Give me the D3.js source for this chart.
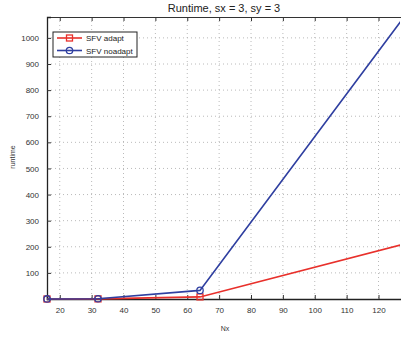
<!DOCTYPE html>
<html>
<head>
<meta charset="utf-8">
<script src="https://cdn.jsdelivr.net/npm/d3@7"></script>
<style>
  html, body { margin: 0; padding: 0; background: #fff; }
  svg { display: block; font-family: "Liberation Sans", Arial, sans-serif; }
</style>
</head>
<body>
<svg id="chart" width="401" height="337"></svg>
<script>
// Grid sizes and measured runtimes
const nx = [16, 32, 64, 128];
const adapt = [0.05, 0.5, 8, 210];
const noadapt = [0.1, 1, 33, 1080];
const xTicks = [20, 30, 40, 50, 60, 70, 80, 90, 100, 110, 120];
const yTicks = [100, 200, 300, 400, 500, 600, 700, 800, 900, 1000];
const seriesNames = ["SFV adapt", "SFV noadapt"];

const svg = d3.select("#chart");
const W = 401, H = 337;
const m = { left: 47, top: 17, right: -3, bottom: 38 };
const x = d3.scaleLinear().domain([16, 128]).range([m.left, W - m.right]);
const y = d3.scaleLinear().domain([0, 1080]).range([H - m.bottom, m.top]);

// the axes box continues past the right edge of the page; clip just before it
svg.append("defs").append("clipPath").attr("id", "plotclip")
  .append("rect").attr("x", m.left - 4).attr("y", m.top - 1)
  .attr("width", 400 - m.left + 4).attr("height", H - m.bottom - m.top + 6);

// dotted grid
const grid = svg.append("g").attr("stroke", "#a8a8a8").attr("stroke-width", 0.8)
  .attr("stroke-dasharray", "1,3");
grid.selectAll(".gx").data(xTicks).join("line")
  .attr("x1", d => x(d)).attr("x2", d => x(d))
  .attr("y1", y.range()[1]).attr("y2", y.range()[0]);
grid.selectAll(".gy").data(yTicks).join("line")
  .attr("x1", m.left).attr("x2", W)
  .attr("y1", d => y(d)).attr("y2", d => y(d));

// axes: ticks point inward
const xAxis = svg.append("g").attr("transform", `translate(0,${y(0)})`)
  .call(d3.axisBottom(x).tickValues(xTicks).tickSize(-4).tickPadding(8).tickFormat(d3.format("d")));
const xTop = svg.append("g").attr("transform", `translate(0,${m.top})`)
  .call(d3.axisTop(x).tickValues(xTicks).tickSize(-4).tickFormat(""));
const yAxis = svg.append("g").attr("transform", `translate(${m.left},0)`)
  .call(d3.axisLeft(y).tickValues(yTicks).tickSize(-4).tickPadding(8).tickFormat(d3.format("d")));
[xAxis, xTop, yAxis].forEach(g => {
  g.selectAll("text").attr("font-size", 8).attr("fill", "#333")
    .attr("font-family", "Liberation Sans, Arial, sans-serif");
  g.selectAll(".tick line").attr("stroke", "#333");
});
xAxis.select(".domain").attr("stroke", "#222").attr("stroke-width", 1.6);
xTop.select(".domain").attr("stroke", "#333").attr("stroke-width", 1);
yAxis.select(".domain").attr("stroke", "#222").attr("stroke-width", 1.3);

// series
const line = d3.line().x(d => x(d[0])).y(d => y(d[1]));
const plot = svg.append("g").attr("clip-path", "url(#plotclip)");
const series = [
  { name: seriesNames[0], vals: adapt, color: "#e8302b", marker: "square" },
  { name: seriesNames[1], vals: noadapt, color: "#2f3fa0", marker: "circle" }
];
function drawMarker(g, type, cx, cy, color) {
  if (type === "square") {
    g.append("rect").attr("x", cx - 3).attr("y", cy - 3).attr("width", 6).attr("height", 6)
      .attr("fill", "none").attr("stroke", color).attr("stroke-width", 1.3);
  } else {
    g.append("circle").attr("cx", cx).attr("cy", cy).attr("r", 3.2)
      .attr("fill", "none").attr("stroke", color).attr("stroke-width", 1.3);
  }
}
series.forEach(s => {
  const pts = nx.map((n, i) => [n, s.vals[i]]);
  plot.append("path").datum(pts).attr("d", line).attr("fill", "none")
    .attr("stroke", s.color).attr("stroke-width", 1.6);
  pts.forEach(p => drawMarker(plot, s.marker, x(p[0]), y(p[1]), s.color));
});

// title and axis labels
svg.append("text").attr("x", 224).attr("y", 12).attr("text-anchor", "middle")
  .attr("font-size", 11).attr("fill", "#222").text("Runtime, sx = 3, sy = 3");
svg.append("text").attr("x", 225).attr("y", 331).attr("text-anchor", "middle")
  .attr("font-size", 7).attr("fill", "#333").text("Nx");
svg.append("text").attr("transform", "translate(15,157) rotate(-90)")
  .attr("text-anchor", "middle").attr("font-size", 7).attr("fill", "#333").text("runtime");

// legend
const lg = svg.append("g");
lg.append("rect").attr("x", 53).attr("y", 32).attr("width", 84).attr("height", 25)
  .attr("fill", "#fff").attr("stroke", "#222").attr("stroke-width", 1);
series.forEach((s, i) => {
  const ly = 38 + i * 12.5;
  lg.append("line").attr("x1", 57).attr("x2", 82).attr("y1", ly).attr("y2", ly)
    .attr("stroke", s.color).attr("stroke-width", 1.6);
  drawMarker(lg, s.marker, 69.5, ly, s.color);
  lg.append("text").attr("x", 86).attr("y", ly + 3).attr("font-size", 8)
    .attr("fill", "#222").text(s.name);
});
</script>
</body>
</html>
